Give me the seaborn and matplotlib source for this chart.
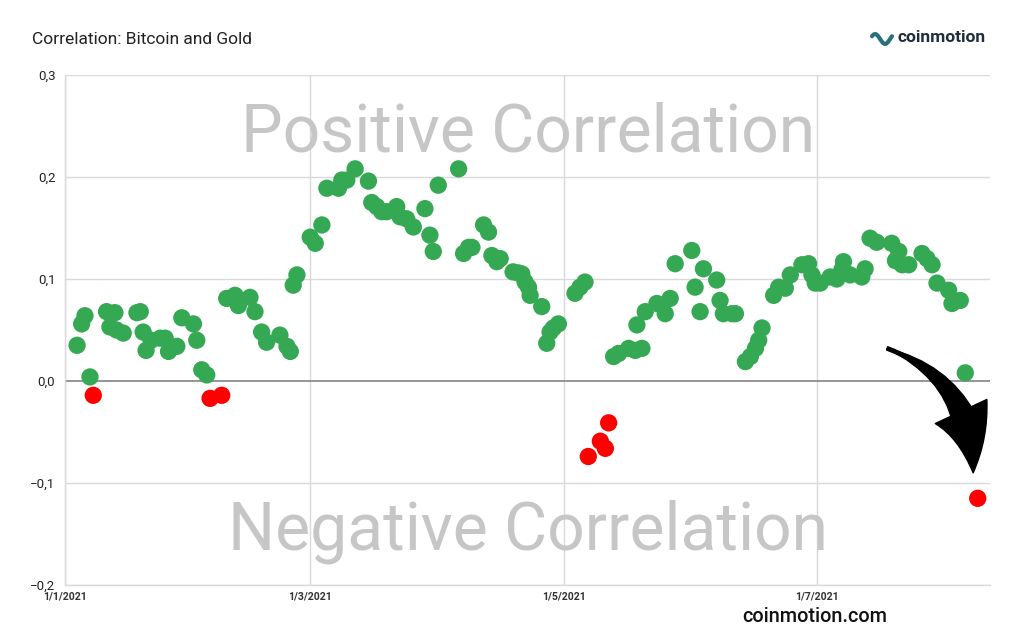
import numpy as np
import pandas as pd
import matplotlib
matplotlib.use("Agg")
import matplotlib.pyplot as plt
import seaborn as sns
from matplotlib.patches import FancyArrowPatch

# ---- data (days since 1 Jan 2021, correlation) ----
day_offsets = [
    2.9, 4.0, 4.8, 6.0, 6.8, 10.0, 10.8, 12.0, 12.4, 14.0,
    17.3, 18.1, 18.8, 20.7, 19.5, 22.9, 24.1, 24.9, 26.9, 28.1,
    30.9, 31.7, 32.9, 34.1, 34.9, 37.7, 38.9, 40.9, 41.7, 44.5,
    45.7, 47.3, 48.5, 51.7, 53.4, 54.2, 54.9, 55.8, 59.0, 60.2,
    61.8, 63.0, 65.8, 66.6, 67.8, 69.8, 73.0, 73.8, 75.0, 76.2,
    77.4, 79.8, 80.6, 82.2, 83.8, 86.6, 87.8, 88.6, 89.8, 94.7,
    95.9, 97.1, 97.9, 100.7, 101.9, 102.7, 103.9, 104.7, 107.8, 109.0,
    109.9, 110.7, 111.5, 111.9, 114.7, 115.9, 116.7, 117.5, 118.7, 122.7,
    123.9, 125.1, 125.9, 128.8, 130.0, 130.8, 132.0, 133.2, 135.6, 137.2,
    137.6, 138.8, 139.6, 142.4, 144.4, 145.6, 146.8, 150.8, 151.6, 152.8,
    153.6, 156.8, 157.6, 158.4, 160.5, 161.3, 163.7, 164.9, 166.1, 166.9,
    167.7, 170.5, 171.7, 173.3, 174.5, 177.3, 178.9, 179.7, 180.5, 181.7,
    184.1, 185.7, 186.9, 187.3, 188.9, 191.7, 192.5, 193.7, 195.3, 198.9,
    199.8, 200.6, 201.4, 203.0, 206.2, 207.4, 208.6, 209.8, 212.6, 213.4,
    215.4, 216.6, 219.6,
]
correlation = [
    0.035, 0.056, 0.064, 0.004, -0.014, 0.068, 0.053, 0.067, 0.050, 0.047,
    0.067, 0.068, 0.048, 0.040, 0.030, 0.042, 0.042, 0.029, 0.034, 0.062,
    0.056, 0.040, 0.011, 0.006, -0.017, -0.014, 0.081, 0.084, 0.074, 0.082,
    0.068, 0.048, 0.038, 0.045, 0.034, 0.029, 0.094, 0.104, 0.141, 0.135,
    0.153, 0.189, 0.189, 0.197, 0.197, 0.208, 0.196, 0.175, 0.171, 0.166,
    0.166, 0.171, 0.161, 0.159, 0.151, 0.169, 0.143, 0.127, 0.192, 0.208,
    0.125, 0.131, 0.131, 0.153, 0.146, 0.123, 0.117, 0.120, 0.107, 0.106,
    0.105, 0.097, 0.092, 0.084, 0.073, 0.037, 0.048, 0.052, 0.056, 0.086,
    0.092, 0.097, -0.074, -0.059, -0.066, -0.041, 0.024, 0.027, 0.032, 0.030,
    0.055, 0.032, 0.068, 0.076, 0.066, 0.081, 0.115, 0.128, 0.092, 0.068,
    0.110, 0.099, 0.079, 0.066, 0.066, 0.066, 0.019, 0.024, 0.032, 0.040,
    0.052, 0.084, 0.092, 0.091, 0.104, 0.114, 0.115, 0.104, 0.096, 0.096,
    0.102, 0.100, 0.109, 0.117, 0.104, 0.102, 0.110, 0.140, 0.136, 0.135,
    0.118, 0.127, 0.114, 0.114, 0.125, 0.120, 0.114, 0.096, 0.089, 0.076,
    0.079, 0.008, -0.115,
]
x_tick_days = [0, 59, 120, 181]
x_tick_labels = ["1/1/2021", "1/3/2021", "1/5/2021", "1/7/2021"]
y_ticks = [0.3, 0.2, 0.1, 0.0, -0.1, -0.2]
y_tick_labels = ["0,3", "0,2", "0,1", "0,0", "\u22120,1", "\u22120,2"]
title = "Correlation: Bitcoin and Gold"
positive_label = "Positive Correlation"
negative_label = "Negative Correlation"
brand = "coinmotion"
footer = "coinmotion.com"

GREEN = "#34a853"
RED = "#ff0000"

df = pd.DataFrame({"day": day_offsets, "corr": correlation})
df["sign"] = np.where(df["corr"] < 0, "neg", "pos")

sns.set_style("white")
plt.rcParams["font.family"] = ["Roboto", "DejaVu Sans"]

fig = plt.figure(figsize=(10.24, 6.33), dpi=100)
ax = fig.add_axes([0.0635, 0.0758, 0.9035, 0.8057])

ax.set_xlim(0, 222.6)
ax.set_ylim(-0.2, 0.3)

# grid
for yv in y_ticks:
    if yv == 0.0:
        continue
    ax.axhline(yv, color="#d9d9d9", lw=1.0, zorder=0)
for xv in x_tick_days:
    ax.axvline(xv, color="#d9d9d9", lw=1.0, zorder=0)
ax.axhline(0.0, color="#8c8c8c", lw=1.3, zorder=1)

# watermark texts
ax.text(0.5, 0.886, positive_label, transform=ax.transAxes, ha="center",
        va="center", fontsize=47.5, color="#c6c6c6", zorder=1)
ax.text(0.5, 0.104, negative_label, transform=ax.transAxes, ha="center",
        va="center", fontsize=47.5, color="#c6c6c6", zorder=1)

sns.scatterplot(data=df, x="day", y="corr", hue="sign",
                palette={"pos": GREEN, "neg": RED}, s=155, linewidth=0,
                legend=False, ax=ax, zorder=3)

for sp in ["top", "right"]:
    ax.spines[sp].set_visible(False)
for sp in ["left", "bottom"]:
    ax.spines[sp].set_color("#d9d9d9")
    ax.spines[sp].set_linewidth(1.0)

ax.set_xticks(x_tick_days)
ax.set_xticklabels(x_tick_labels, fontsize=7.6, fontweight="bold", color="#333333")
ax.set_yticks(y_ticks)
ax.set_yticklabels(y_tick_labels, fontsize=9.5, color="#222222")
ax.tick_params(axis="both", length=0)
ax.tick_params(axis="x", pad=5)
ax.tick_params(axis="y", pad=7)
ax.set_xlabel("")
ax.set_ylabel("")

# curved arrow: thin-tailed head + tapered body
arrow_start = (197.8, 0.032)
arrow_tip = (218.5, -0.090)
head = FancyArrowPatch(arrow_start, arrow_tip,
                       connectionstyle="arc3,rad=-0.35",
                       arrowstyle="simple,head_width=4.1,head_length=4.5,tail_width=0.25",
                       mutation_scale=10, color="black", shrinkA=0, shrinkB=0,
                       zorder=4)
ax.add_patch(head)
body = FancyArrowPatch(arrow_tip, arrow_start,
                       connectionstyle="arc3,rad=0.35",
                       arrowstyle="wedge,tail_width=1.75,shrink_factor=0.5",
                       mutation_scale=10, color="black", shrinkA=40, shrinkB=0,
                       zorder=4)
ax.add_patch(body)

# title & branding
fig.text(32 / 1024, 1 - 40 / 633, title, fontsize=12.5, color="#222222",
         ha="left", va="center")
fig.text(897 / 1024, 1 - 38 / 633, brand, fontsize=12.5, fontweight="bold",
         color="#1f2d3d", ha="left", va="center")
fig.text(742 / 1024, 1 - 617 / 633, footer, fontsize=14.3, fontweight="medium",
         color="#111111", ha="left", va="center")

# small logo swirl
lx = np.linspace(0, 1, 40)
logo_ax = fig.add_axes([870 / 1024, 1 - 46 / 633, 24 / 1024, 14 / 633])
logo_ax.plot(lx, 0.5 + 0.35 * np.sin(lx * 2 * np.pi + 0.6), color="#2a6f7f", lw=3,
             solid_capstyle="round")
logo_ax.set_xlim(-0.1, 1.1)
logo_ax.set_ylim(0, 1)
logo_ax.axis("off")

fig.savefig("out.png", dpi=100)
